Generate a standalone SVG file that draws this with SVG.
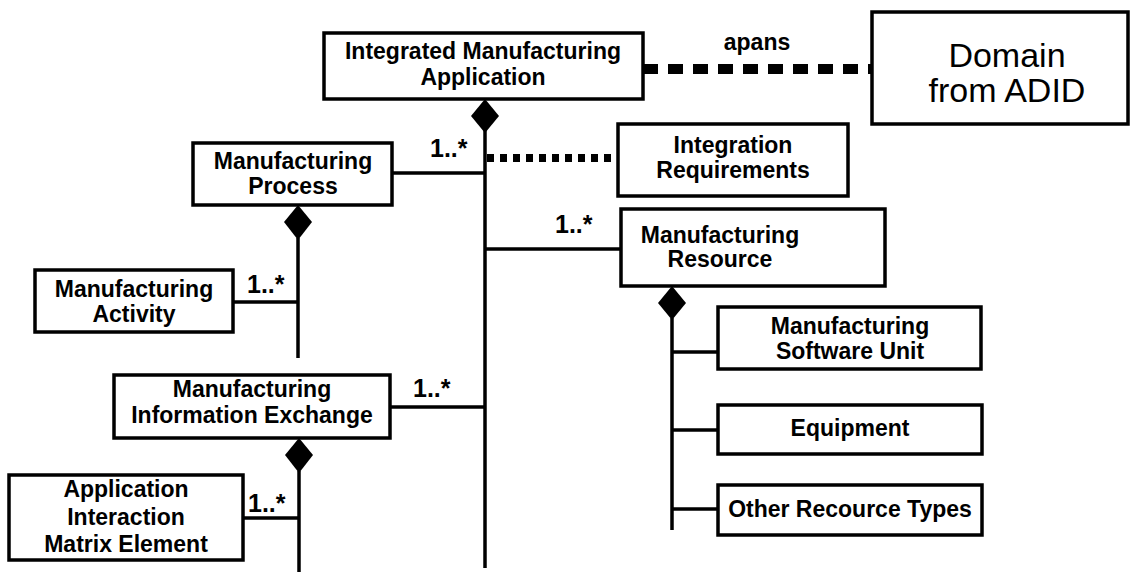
<svg xmlns="http://www.w3.org/2000/svg" width="1134" height="572" viewBox="0 0 1134 572">
<style>
.box{fill:#fff;stroke:#000;stroke-width:3.5}
.t{font-family:"Liberation Sans",Arial,sans-serif;font-weight:bold;font-size:23px;text-anchor:middle;fill:#000}
.m{font-family:"Liberation Sans",Arial,sans-serif;font-weight:bold;font-size:25px;fill:#000}
.d{font-family:"Liberation Sans",Arial,sans-serif;font-size:34px;text-anchor:middle;fill:#000}
.ln{stroke:#000;stroke-width:3.5;fill:none}
.dia{fill:#000}
</style>
<rect width="1134" height="572" fill="#fff"/>
<g id="connectors">
<line class="ln" x1="485" y1="130" x2="485" y2="568"/>
<line class="ln" x1="392" y1="173" x2="485" y2="173"/>
<line class="ln" x1="485" y1="249" x2="621" y2="249"/>
<line class="ln" x1="390" y1="407" x2="485" y2="407"/>
<line class="ln" x1="298" y1="238" x2="298" y2="358"/>
<line class="ln" x1="233" y1="302" x2="298" y2="302"/>
<line class="ln" x1="299" y1="471" x2="299" y2="572"/>
<line class="ln" x1="243" y1="518" x2="299" y2="518"/>
<line class="ln" x1="672" y1="318" x2="672" y2="530"/>
<line class="ln" x1="672" y1="352" x2="718" y2="352"/>
<line class="ln" x1="672" y1="430" x2="718" y2="430"/>
<line class="ln" x1="672" y1="509" x2="718" y2="509"/>
<line x1="643" y1="69" x2="872" y2="69" stroke="#000" stroke-width="10" stroke-dasharray="15 10"/>
<line x1="487" y1="158" x2="618" y2="158" stroke="#000" stroke-width="8" stroke-dasharray="7 6"/>
<polygon class="dia" points="485,99 499,116 485,133 471,116"/>
<polygon class="dia" points="298,205 312,222 298,240 284,222"/>
<polygon class="dia" points="299,438 313,455 299,473 285,455"/>
<polygon class="dia" points="672,286 686,303 672,320 658,303"/>
<text class="t" x="757" y="50" font-size="20">apans</text>
<text class="m" x="430" y="157">1..*</text>
<text class="m" x="555" y="233">1..*</text>
<text class="m" x="247" y="293">1..*</text>
<text class="m" x="413" y="397">1..*</text>
<text class="m" x="248" y="512">1..*</text>
</g>
<g id="ima">
<rect class="box" x="324" y="33" width="319" height="66"/>
<text class="t" x="483" y="59">Integrated Manufacturing</text>
<text class="t" x="483" y="85">Application</text>
</g>
<g id="domain">
<rect class="box" x="872" y="12" width="256" height="112"/>
<text class="d" x="1007" y="67">Domain</text>
<text class="d" x="1007" y="102">from ADID</text>
</g>
<g id="ir">
<rect class="box" x="618" y="124" width="230" height="72"/>
<text class="t" x="733" y="153">Integration</text>
<text class="t" x="733" y="178">Requirements</text>
</g>
<g id="mp">
<rect class="box" x="193" y="143" width="199" height="62"/>
<text class="t" x="293" y="169">Manufacturing</text>
<text class="t" x="293" y="194">Process</text>
</g>
<g id="ma">
<rect class="box" x="35" y="270" width="198" height="62"/>
<text class="t" x="134" y="297">Manufacturing</text>
<text class="t" x="134" y="322">Activity</text>
</g>
<g id="mr">
<rect class="box" x="621" y="209" width="264" height="77"/>
<text class="t" x="720" y="243">Manufacturing</text>
<text class="t" x="720" y="267">Resource</text>
</g>
<g id="msu">
<rect class="box" x="718" y="307" width="263" height="62"/>
<text class="t" x="850" y="334" font-size="21">Manufacturing</text>
<text class="t" x="850" y="359" font-size="21">Software Unit</text>
</g>
<g id="equip">
<rect class="box" x="718" y="405" width="264" height="49"/>
<text class="t" x="850" y="436">Equipment</text>
</g>
<g id="other">
<rect class="box" x="718" y="485" width="264" height="50"/>
<text class="t" x="850" y="517">Other Recource Types</text>
</g>
<g id="mie">
<rect class="box" x="114" y="375" width="276" height="63"/>
<text class="t" x="252" y="397">Manufacturing</text>
<text class="t" x="252" y="423">Information Exchange</text>
</g>
<g id="aime">
<rect class="box" x="9" y="475" width="234" height="85"/>
<text class="t" x="126" y="497">Application</text>
<text class="t" x="126" y="525">Interaction</text>
<text class="t" x="126" y="552">Matrix Element</text>
</g>
</svg>
